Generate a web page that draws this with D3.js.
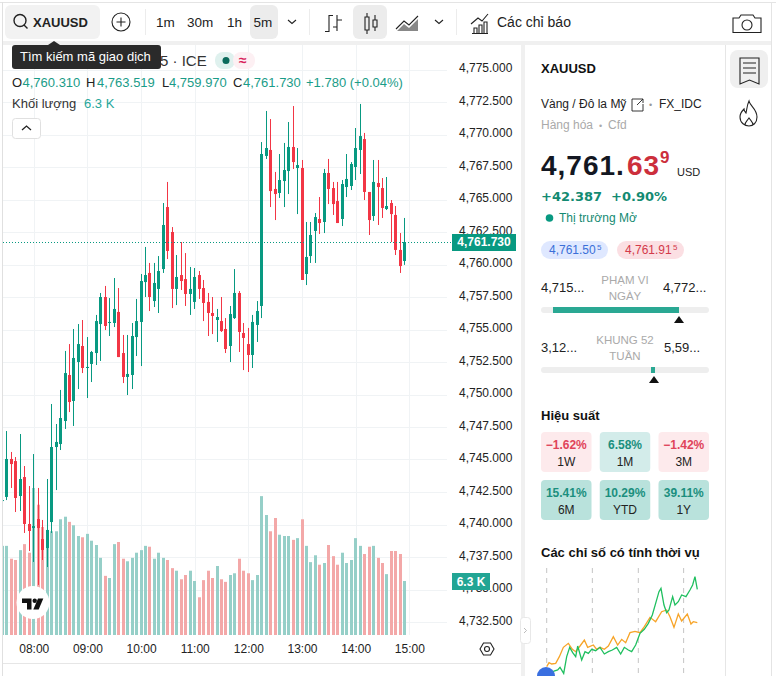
<!DOCTYPE html>
<html>
<head>
<meta charset="utf-8">
<script src="https://cdn.jsdelivr.net/npm/d3@7/dist/d3.min.js"></script>
<style>
html, body { margin: 0; padding: 0; background: #fff; overflow: hidden; }
svg { display: block; font-family: "Liberation Sans", Arial, sans-serif; }
</style>
</head>
<body>
<svg id="chart" width="776" height="676"></svg>
<script>
// 5 minute bars, first one at 07:25
var firstBarMinute = 445;
var opens = [4741.81,4742.12,4745.04,4744.88,4742.19,4743.65,4740.04,4739.73,4740.42,4738.88,4738.19,4740.19,4745.96,4746.19,4747.96,4751.50,4749.50,4752.50,4753.73,4752.04,4752.35,4753.19,4755.42,4757.50,4755.50,4755.50,4756.35,4753.19,4751.35,4751.50,4754.42,4755.58,4758.65,4759.35,4757.19,4758.12,4759.65,4764.42,4762.50,4758.12,4759.19,4758.88,4757.73,4757.12,4759.19,4758.19,4757.12,4756.27,4755.73,4755.65,4755.04,4753.73,4755.88,4757.81,4754.73,4753.88,4753.04,4755.35,4756.81,4768.35,4768.81,4765.81,4765.50,4766.42,4767.19,4769.04,4767.42,4767.42,4759.27,4760.65,4762.58,4763.50,4763.27,4767.04,4765.88,4764.88,4763.50,4765.96,4766.04,4767.50,4768.81,4769.65,4765.58,4763.73,4766.27,4765.88,4764.27,4764.73,4763.81,4761.12,4760.27];
var highs = [4742.19,4747.19,4745.58,4745.19,4746.96,4744.50,4742.96,4745.42,4742.81,4740.35,4743.50,4749.27,4747.73,4750.35,4753.35,4753.88,4755.04,4755.42,4755.73,4754.42,4753.35,4756.12,4757.81,4758.35,4757.42,4758.96,4758.19,4754.58,4754.58,4755.50,4757.35,4759.27,4761.35,4760.12,4760.12,4760.65,4764.73,4766.35,4762.88,4760.73,4761.73,4760.88,4759.81,4759.73,4759.50,4758.81,4757.81,4757.50,4756.58,4757.50,4755.88,4756.81,4759.65,4757.96,4755.50,4755.12,4756.12,4757.19,4769.42,4771.81,4771.19,4767.12,4768.50,4769.35,4770.96,4772.19,4768.96,4768.04,4763.27,4763.27,4763.96,4765.19,4767.35,4768.12,4766.35,4766.35,4766.50,4768.50,4767.88,4770.50,4772.35,4770.12,4765.58,4768.04,4768.04,4766.65,4766.73,4764.96,4764.50,4762.42,4763.58];
var lows = [4741.42,4741.88,4742.81,4740.96,4741.04,4739.35,4737.96,4737.12,4735.35,4737.27,4736.73,4739.35,4742.65,4745.73,4747.35,4748.65,4747.58,4750.42,4751.65,4749.73,4750.96,4752.27,4752.58,4754.96,4754.50,4755.19,4752.88,4750.88,4749.96,4750.42,4752.96,4752.19,4757.50,4756.42,4756.73,4756.27,4759.35,4760.42,4756.65,4756.88,4758.04,4756.81,4756.12,4756.58,4757.35,4755.65,4754.50,4754.65,4754.04,4754.81,4753.19,4752.50,4755.81,4753.27,4751.88,4751.73,4752.04,4754.04,4755.88,4768.12,4764.42,4763.42,4765.12,4764.42,4765.42,4767.35,4763.88,4758.81,4758.42,4760.12,4760.12,4762.35,4762.42,4764.65,4763.81,4763.19,4762.96,4765.19,4765.73,4766.50,4766.96,4764.96,4762.27,4763.35,4763.04,4763.58,4764.19,4761.73,4760.73,4759.35,4759.97];
var closes = [4741.88,4745.04,4744.65,4742.04,4743.50,4740.04,4739.50,4739.88,4739.73,4738.04,4739.58,4745.96,4746.35,4748.19,4751.65,4749.42,4752.81,4753.88,4752.04,4752.12,4753.27,4755.65,4757.50,4755.27,4755.58,4756.58,4752.88,4751.35,4751.58,4754.50,4755.65,4758.73,4759.19,4757.50,4758.58,4759.50,4763.04,4761.04,4758.12,4759.04,4758.73,4757.73,4758.12,4759.04,4758.12,4757.04,4756.27,4756.04,4755.96,4754.88,4753.50,4756.19,4757.81,4754.81,4754.35,4753.04,4755.58,4756.42,4768.50,4768.96,4765.65,4765.42,4766.50,4767.27,4769.04,4767.88,4767.65,4758.81,4760.58,4762.27,4763.65,4763.19,4767.04,4765.81,4764.65,4763.19,4766.19,4766.58,4767.73,4768.96,4769.88,4765.58,4763.42,4766.35,4765.96,4764.35,4764.50,4763.88,4761.12,4759.88,4761.73];
var volumes = [10.4,10.4,8.9,8.75,9.9,10.6,9.6,17.15,15.2,12.6,12.25,12.1,12.1,13.5,13.8,13.2,12.8,11.55,11.4,11.8,11.0,10.5,9.0,6.9,6.65,10.6,10.85,8.9,8.6,9.0,9.6,9.9,10.4,10.3,8.9,9.6,9.0,8.75,7.8,7.5,6.5,7.0,7.5,6.3,4.4,6.4,7.5,6.65,8.05,6.5,6.2,7.0,7.2,8.9,7.5,7.2,6.4,7.0,16.2,14.0,12.1,13.65,11.7,11.55,11.55,11.1,11.3,13.5,10.4,8.5,9.3,8.2,8.4,10.5,9.2,8.2,9.6,8.4,8.75,11.3,10.4,9.45,10.3,10.4,9.0,8.4,7.1,9.8,9.8,9.45,6.3];

var priceTicks = [4775,4772.5,4770,4767.5,4765,4762.5,4760,4757.5,4755,4752.5,4750,4747.5,4745,4742.5,4740,4737.5,4735,4732.5];
var timeTicks = [480,540,600,660,720,780,840,900];
var timeLabels = ["08:00","09:00","10:00","11:00","12:00","13:00","14:00","15:00"];
var lastPrice = 4761.73;
var lastVolume = 6.3;

var legendLabels = ["O","H","L","C"];
var legendValues = ["4,760.310","4,763.519","4,759.970","4,761.730"];

var perfLabels = ["1W","1M","3M","6M","YTD","1Y"];
var perfValues = [-1.62,6.58,-1.42,15.41,10.29,39.11];

// seasonal lines: day offset and value
var greenDays = [0,11,22,33,40,51,60,69,78,87,93,105,115,125,135,147,160,173,185,197,210,222,233,245,255,267,280,293,305,317,327,337,343,352,360,367,378,385,395,405,418,430,438,445,452];
var greenVals = [0,5,12,15,23,5,55,83,67,55,87,45,70,65,77,73,83,63,70,75,83,63,83,75,70,90,125,137,155,180,215,250,260,210,187,195,235,210,220,240,235,255,270,295,257];
var orangeDays = [0,7,15,27,38,50,65,77,87,100,113,123,140,150,160,173,185,200,213,225,237,250,265,280,293,310,327,345,360,370,382,395,405,422,433,440,452];
var orangeVals = [25,37,33,35,55,83,95,77,70,87,105,83,90,77,83,77,87,115,90,107,97,127,131,127,145,173,160,190,195,175,143,183,162,183,153,160,157];

var GREEN = "#089981", RED = "#f23645";
var VOL_GREEN = "#96cfc8", VOL_RED = "#f3a8a8";
var svg = d3.select("#chart");

var x = d3.scaleLinear().domain([480, 900]).range([33.75, 409.3]);
var y = d3.scaleLinear().domain([4732.5, 4775]).range([622, 69.5]);
var vol = d3.scaleLinear().domain([0, 6.3]).range([635, 581]);
var barX = function(i) { return Math.floor(x(firstBarMinute + i * 5)); };
var isUp = function(i) { return closes[i] >= opens[i]; };

function text(s, px, py, size, color, weight, family, anchor) {
	return svg.append("text").attr("x", px).attr("y", py).text(s)
		.attr("font-size", size).attr("fill", color)
		.attr("font-weight", weight || "normal")
		.attr("font-family", family || null)
		.attr("text-anchor", anchor || "start");
}
function box(px, py, w, h, fill, r) {
	return svg.append("rect").attr("x", px).attr("y", py).attr("width", w).attr("height", h)
		.attr("fill", fill).attr("rx", r || 0);
}
function icon(d, sw, fill) {
	return svg.append("path").attr("d", d).attr("fill", fill || "none")
		.attr("stroke", fill ? "none" : "#222").attr("stroke-width", sw || 1.1);
}

// frame
box(0, 2, 776, 1, "#e4e4e4");
box(2, 2, 1, 674, "#e0e0e0");
box(3, 41, 768, 4, "#f0f0f0");
box(521, 45, 4, 631, "#f0f0f0");
box(725, 45, 1, 631, "#e6e6e6");
box(771, 2, 1, 674, "#e4e4e4");
box(3, 663, 518, 1, "#e6e6e6");

// grid
var gridColor = "#f0f3f5";
svg.append("g").selectAll("line").data(priceTicks).enter().append("line")
	.attr("x1", 3).attr("x2", 447)
	.attr("y1", function(d) { return Math.round(y(d)) + 0.5; })
	.attr("y2", function(d) { return Math.round(y(d)) + 0.5; })
	.attr("stroke", gridColor);
svg.append("g").selectAll("line").data(timeTicks).enter().append("line")
	.attr("y1", 45).attr("y2", 635)
	.attr("x1", function(d) { return Math.round(x(d)) + 0.5; })
	.attr("x2", function(d) { return Math.round(x(d)) + 0.5; })
	.attr("stroke", gridColor);

svg.append("clipPath").attr("id", "pane").append("rect")
	.attr("x", 3).attr("y", 45).attr("width", 442).attr("height", 618);
var pane = svg.append("g").attr("clip-path", "url(#pane)");

// volume
pane.append("g").selectAll("rect").data(volumes).enter().append("rect")
	.attr("x", function(d, i) { return barX(i) - 1; })
	.attr("width", 3)
	.attr("y", function(d) { return vol(d); })
	.attr("height", function(d) { return vol(0) - vol(d); })
	.attr("fill", function(d, i) { return isUp(i) ? VOL_GREEN : VOL_RED; });

// last price line
svg.append("line").attr("x1", 3).attr("x2", 452)
	.attr("y1", Math.round(y(lastPrice)) + 0.5).attr("y2", Math.round(y(lastPrice)) + 0.5)
	.attr("stroke", GREEN).attr("stroke-dasharray", "1 2");

// candles
var candles = pane.append("g").selectAll("g").data(opens).enter().append("g")
	.attr("fill", function(d, i) { return isUp(i) ? GREEN : RED; });
candles.append("rect")
	.attr("x", function(d, i) { return barX(i); })
	.attr("width", 1)
	.attr("y", function(d, i) { return y(highs[i]); })
	.attr("height", function(d, i) { return y(lows[i]) - y(highs[i]); });
candles.append("rect")
	.attr("x", function(d, i) { return barX(i) - 1; })
	.attr("width", 3)
	.attr("y", function(d, i) { return y(Math.max(opens[i], closes[i])); })
	.attr("height", function(d, i) { return Math.max(1, Math.abs(y(opens[i]) - y(closes[i]))); });

// axes
var priceAxis = d3.axisRight(y).tickValues(priceTicks).tickFormat(d3.format(",.3f")).tickSize(0).tickPadding(0);
var gPrice = svg.append("g").attr("transform", "translate(459,-1.5)").call(priceAxis);
gPrice.select(".domain").remove();
gPrice.selectAll("text").attr("font-size", 12).attr("fill", "#222").attr("font-family", "Liberation Sans");

var timeAxis = d3.axisBottom(x).tickValues(timeTicks)
	.tickFormat(function(d, i) { return timeLabels[i]; }).tickSize(0).tickPadding(0);
var gTime = svg.append("g").attr("transform", "translate(0,644)").call(timeAxis);
gTime.select(".domain").remove();
gTime.selectAll("text").attr("font-size", 12).attr("fill", "#222").attr("font-family", "Liberation Sans");

// axis badges
box(452, 234, 64, 17, GREEN);
text(d3.format(",.3f")(lastPrice), 484, 246, 12, "#fff", "bold", null, "middle");
box(452, 573, 38, 17, "#22a594");
text(lastVolume + " K", 471, 585.5, 12, "#fff", "bold", null, "middle");

// settings hexagon
icon("M480 649l3.5-6h7l3.5 6-3.5 6h-7zM489.5 649a2.5 2.5 0 1 1-5 0a2.5 2.5 0 1 1 5 0");

// legend
text("5 · ICE", 160, 66, 15, "#333");
box(215, 52, 20, 17, "#dff1ee").attr("rx", 8);
box(233, 52, 22, 17, "#fdf0f3").attr("rx", 8);
svg.append("circle").attr("cx", 226).attr("cy", 60.5).attr("r", 3.5).attr("fill", "#0b6b5c");
text("≈", 239, 65, 14, "#d81e5b", "bold");

var legendLabelX = [12, 86, 162, 233], legendValueX = [22.5, 97, 169, 243];
legendLabels.forEach(function(l, i) {
	text(l, legendLabelX[i], 87, 13, "#222");
	text(legendValues[i], legendValueX[i], 87, 13, "#1a9c88");
});
text("+1.780 (+0.04%)", 306, 87, 13, "#1a9c88");
text("Khối lượng", 12, 108, 13, "#333");
text("6.3 K", 84, 108, 13, "#26a69a");
box(12.5, 118.5, 28, 20, "#fff", 3).attr("stroke", "#e0e0e0");
icon("M22 130l4.5-4 4.5 4", 1.3);

// TradingView mark
svg.append("circle").attr("cx", 33).attr("cy", 602.5).attr("r", 16.5).attr("fill", "#fff");
icon("M22 598.5h9.5v11h-4.5v-6.5h-5z", 0, "#111");
svg.append("circle").attr("cx", 34.7).attr("cy", 600.7).attr("r", 2.2).attr("fill", "#111");
icon("M38 598.5h5.3l-4.6 11h-5.4z", 0, "#111");

// toolbar
box(5, 5, 95, 34, "#f2f2f2", 6);
icon("M24 25l3.5 3.5M26 20.5a6 6 0 1 1-12 0a6 6 0 1 1 12 0", 1.4);
text("XAUUSD", 33, 27, 13, "#222", "bold");
svg.append("circle").attr("cx", 121).attr("cy", 22).attr("r", 9).attr("fill", "none").attr("stroke", "#222").attr("stroke-width", 1.1);
icon("M116.5 22h9M121 17.5v9");
box(145, 9, 1, 26, "#ececec");
text("1m", 156, 27, 13.5, "#222");
text("30m", 187, 27, 13.5, "#222");
text("1h", 227, 27, 13.5, "#222");
box(250, 5, 28, 34, "#ececec", 6);
text("5m", 253.5, 27, 13.5, "#222");
icon("M288 20l4 3.5 4-3.5");
box(309, 9, 1, 26, "#ececec");
icon("M325 31.5h4v-16h4M329 22v-6.5M337 15v16M337 20h5M333 27h4");
box(353, 5, 34, 34, "#ececec", 6);
icon("M367 13v4M367 30v4M365 17h4v13h-4zM375 15v5M375 27v4M373 20h4v7h-4z");
icon("M396 29l8-8 5 4 9-9", 1.1);
icon("M397 31l7-7 5 4 9-9v12z", 0, "#888");
icon("M435 20l4 3.5 4-3.5");
box(456, 9, 1, 26, "#ececec");
icon("M471 24l7-6 4 3 6-7M472 33.5h16M474 33v-5h3v5M479 33v-8h3v8M484 33v-11h3v11");
text("Các chỉ báo", 497, 27, 14, "#222");
icon("M733 18h6l2-3h12l2 3h6v14.5h-28zM752 25a5 5 0 1 1-10 0a5 5 0 1 1 10 0", 1.1);

// tooltip
box(12, 45, 149, 24, "#2a2a2a", 3);
icon("M48 45l6-4 6 4z", 0, "#2a2a2a");
text("Tìm kiếm mã giao dịch", 20, 61, 13, "#fff");

// side panel
text("XAUUSD", 541, 73, 13, "#111", "bold");
text("Vàng / Đô la Mỹ", 541, 108, 12, "#222");
icon("M639 99h-7v12h11v-7M637 105l6-6M639 99h4v4", 0.9);
text("•", 649, 108, 9, "#999");
text("FX_IDC", 659, 108, 12, "#222");
text("Hàng hóa", 541, 129, 12, "#aaa");
text("•", 599, 129, 9, "#aaa");
text("Cfd", 608, 129, 12, "#aaa");

var pf = "DejaVu Sans";
text("4,761.", 541, 175, 28, "#131722", "bold").attr("letter-spacing", 1);
text("63", 627, 175, 28, "#cc2f3c", "bold").attr("letter-spacing", 1);
text("9", 660, 163, 17, "#cc2f3c", "bold");
text("USD", 677, 176, 11, "#222");
text("+42.387", 541, 201, 13, "#138a72", "bold", pf);
text("+0.90%", 611, 201, 13, "#138a72", "bold", pf);
svg.append("circle").attr("cx", 549.5).attr("cy", 218).attr("r", 3.8).attr("fill", "#089981");
text("Thị trường Mở", 559, 222, 12, "#138a72");

box(541, 241, 67, 18, "#dfe8ff", 9);
text("4,761.50", 549, 254, 12, "#3a6fd8");
text("5", 597, 250, 8, "#3a6fd8");
box(617, 241, 67, 18, "#fbdfe3", 9);
text("4,761.91", 625, 254, 12, "#d33a4a");
text("5", 673, 250, 8, "#d33a4a");

// range bars
text("4,715...", 541, 292, 13, "#222");
text("PHẠM VI", 625, 284, 11.5, "#aaa", "normal", null, "middle");
text("NGÀY", 625, 300, 11.5, "#aaa", "normal", null, "middle");
text("4,772...", 663, 292, 13, "#222");
box(541, 307, 168, 6, "#eeeeee", 3);
box(553, 307, 126, 6, "#2aa893");
icon("M674 323l5-7 5 7z", 0, "#111");

text("3,12...", 541, 352, 13, "#222");
text("KHUNG 52", 625, 344, 11.5, "#aaa", "normal", null, "middle");
text("TUẦN", 625, 360, 11.5, "#aaa", "normal", null, "middle");
text("5,59...", 664, 352, 13, "#222");
box(541, 367, 168, 6, "#eeeeee", 3);
box(651, 367, 4, 6, "#2aa893");
icon("M649 383l5-7 5 7z", 0, "#111");

// performance cards
text("Hiệu suất", 541, 420, 13, "#111", "bold");
var cardX = d3.scaleBand().domain(d3.range(3)).range([541, 709]).paddingInner(0.14);
var cardFill = function(v) { return v < 0 ? "#fdeaec" : v < 10 ? "#d3ecea" : "#b9e2dc"; };
var cards = svg.append("g").selectAll("g").data(perfValues).enter().append("g")
	.attr("transform", function(d, i) { return "translate(" + cardX(i % 3) + "," + (i < 3 ? 432 : 480) + ")"; });
cards.append("rect").attr("width", cardX.bandwidth()).attr("height", 40).attr("rx", 4)
	.attr("fill", cardFill);
cards.append("text").attr("x", cardX.bandwidth() / 2).attr("y", 17).attr("text-anchor", "middle")
	.attr("font-size", 12).attr("font-weight", "bold")
	.attr("fill", function(d) { return d < 0 ? "#e0445a" : "#1b8f7e"; })
	.text(function(d) { return (d < 0 ? "−" + (-d).toFixed(2) : d.toFixed(2)) + "%"; });
cards.append("text").attr("x", cardX.bandwidth() / 2).attr("y", 34).attr("text-anchor", "middle")
	.attr("font-size", 12).attr("fill", "#222")
	.text(function(d, i) { return perfLabels[i]; });

// seasonal chart
text("Các chỉ số có tính thời vụ", 541, 557, 13, "#111", "bold");
var sx = d3.scaleLinear().domain([0, 452]).range([546.7, 697.3]);
var sy = d3.scaleLinear().domain([0, 300]).range([675, 575]);
svg.append("g").selectAll("line").data([0, 137, 275, 411]).enter().append("line")
	.attr("x1", function(d) { return sx(d); }).attr("x2", function(d) { return sx(d); })
	.attr("y1", 568).attr("y2", 676)
	.attr("stroke", "#c4c4c4").attr("stroke-dasharray", "5 5");
var seasonLine = function(days) {
	return d3.line().x(function(d, i) { return sx(days[i]); }).y(function(d) { return sy(d); });
};
svg.append("path").attr("d", seasonLine(orangeDays)(orangeVals)).attr("fill", "none")
	.attr("stroke", "#f7a428").attr("stroke-width", 1.3);
svg.append("path").attr("d", seasonLine(greenDays)(greenVals)).attr("fill", "none")
	.attr("stroke", "#1fbf5f").attr("stroke-width", 1.3);
svg.append("circle").attr("cx", 546).attr("cy", 676).attr("r", 9).attr("fill", "#3a6fe0");

// collapse handle
box(520.5, 617.5, 10, 26, "#fff", 3).attr("stroke", "#e8e8e8");
icon("M524 628l2.5 2.5-2.5 2.5", 0.8).attr("stroke", "#aaa");

// side toolbar
box(730, 50, 38, 38, "#efefef", 8);
icon("M740 58h19v26l-9.5-4-9.5 4zM743 63h13M743 68h13M743 73h13");
icon("M749 101c1 5 8 8 8 16c0 6-4 9-8 9s-9-3-9-9c0-4 2-6 4-8c0 2 1 3 2 4c1-4 1-8 3-12zM745 125c0-3 2-4 4-7c2 3 4 4 4 7");
</script>
</body>
</html>
